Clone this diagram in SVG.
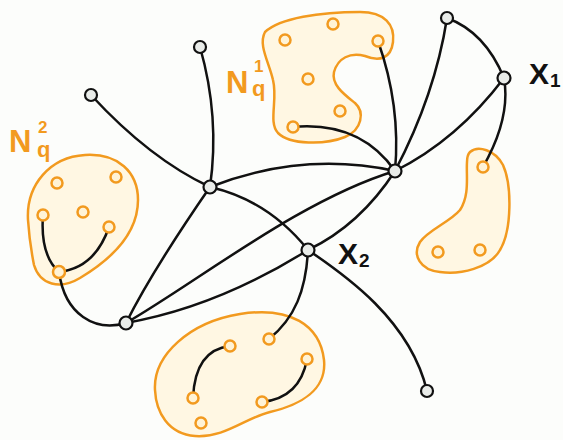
<svg xmlns="http://www.w3.org/2000/svg" width="563" height="440" viewBox="0 0 563 440">
<style>
.blob{fill:#fff7e3;stroke:#f29a1f;stroke-width:2.5}
.oc{fill:#fff3d6;stroke:#f29a1f;stroke-width:2.5}
.bn{fill:#e9ece9;stroke:#111;stroke-width:2.2}
.e{fill:none;stroke:#111;stroke-width:2.5;stroke-linecap:round}
.ol{font-family:"Liberation Sans",Arial,sans-serif;font-weight:bold;fill:#f29a1f}
.bl{font-family:"Liberation Sans",Arial,sans-serif;font-weight:bold;fill:#111}
</style>
<rect width="563" height="440" fill="#fcfdfb"/>
<g id="blob-N2"><path class="blob" d="M28,220 C26,185 50,157 85,155 C118,153 138,172 138,200 C138,235 110,260 80,278 C60,290 40,285 34,265 C31,250 29,235 28,220 Z"/></g>
<g id="blob-N1"><path class="blob" d="M265,32 C280,18 320,12 360,12 C385,12 395,25 393,42 C391,58 380,62 365,56 C350,52 338,58 334,72 C331,85 345,95 355,103 C365,112 362,130 345,137 C325,145 290,145 278,133 C268,122 278,100 273,80 C269,62 258,45 265,32 Z"/></g>
<g id="blob-3"><path class="blob" d="M470,152 C478,145 495,150 503,165 C512,185 512,230 500,250 C490,268 460,275 440,272 C420,270 412,255 420,242 C428,230 450,222 460,210 C470,195 466,175 467,162 C467,157 468,154 470,152 Z"/></g>
<g id="blob-4"><path class="blob" d="M155,390 C153,355 190,322 240,314 C290,306 320,325 324,360 C327,390 300,405 270,412 C245,418 225,438 195,436 C168,434 156,412 155,390 Z"/></g>
<g id="connectors">
<path class="e" d="M200,47 Q220,117 210,187"/>
<path class="e" d="M91,95 Q150,159 210,187"/>
<path class="e" d="M210,187 Q302,151 395,171"/>
<path class="e" d="M210,187 C245,195 280,215 308,250"/>
<path class="e" d="M308,250 C345,275 410,320 427,391"/>
<path class="e" d="M395,171 Q435,95 447,18"/>
<path class="e" d="M395,171 Q457,140 504,78"/>
<path class="e" d="M447,18 Q485,32 504,78"/>
<path class="e" d="M504,78 Q511,118 483,167"/>
<path class="e" d="M378,41 Q401,106 395,171"/>
<path class="e" d="M293,127 Q360,121 395,171"/>
<path class="e" d="M126,323 Q152,271 210,187"/>
<path class="e" d="M126,323 C200,280 300,200 395,171"/>
<path class="e" d="M126,323 Q217,307 308,250"/>
<path class="e" d="M308,250 Q360,225 395,171"/>
<path class="e" d="M308,250 C306,290 295,318 269,339"/>
<path class="e" d="M59,272 C65,315 95,332 126,323"/>
<path class="e" d="M43,215 Q40,255 59,272"/>
<path class="e" d="M59,272 Q95,268 109,227"/>
<path class="e" d="M230,346 Q195,350 193,398"/>
<path class="e" d="M262,402 Q300,398 307,359"/>
</g>
<g id="N2-nodes">
<circle class="oc" cx="57" cy="183" r="5.5"/>
<circle class="oc" cx="116" cy="177" r="5.5"/>
<circle class="oc" cx="43" cy="215" r="5.5"/>
<circle class="oc" cx="83" cy="212" r="5.5"/>
<circle class="oc" cx="109" cy="227" r="5.5"/>
<circle class="oc" cx="59" cy="272" r="6"/>
</g>
<g id="N1-nodes">
<circle class="oc" cx="285" cy="40" r="5.5"/>
<circle class="oc" cx="333" cy="24" r="5.5"/>
<circle class="oc" cx="378" cy="41" r="5.5"/>
<circle class="oc" cx="308" cy="79" r="5.5"/>
<circle class="oc" cx="340" cy="111" r="5.5"/>
<circle class="oc" cx="293" cy="127" r="5.5"/>
</g>
<g id="blob3-nodes">
<circle class="oc" cx="483" cy="167" r="5.5"/>
<circle class="oc" cx="438" cy="252" r="5.5"/>
<circle class="oc" cx="480" cy="250" r="5.5"/>
</g>
<g id="blob4-nodes">
<circle class="oc" cx="230" cy="346" r="5.5"/>
<circle class="oc" cx="269" cy="339" r="5.5"/>
<circle class="oc" cx="307" cy="359" r="5.5"/>
<circle class="oc" cx="193" cy="398" r="5.5"/>
<circle class="oc" cx="262" cy="402" r="5.5"/>
<circle class="oc" cx="201" cy="423" r="5.5"/>
</g>
<g id="node-A"><circle class="bn" cx="200" cy="47" r="6"/></g>
<g id="node-B"><circle class="bn" cx="91" cy="95" r="6"/></g>
<g id="node-C"><circle class="bn" cx="210" cy="187" r="6.5"/></g>
<g id="node-D"><circle class="bn" cx="395" cy="171" r="6.5"/></g>
<g id="node-E"><circle class="bn" cx="447" cy="18" r="6"/></g>
<g id="node-X1"><circle class="bn" cx="504" cy="78" r="6.5"/></g>
<g id="node-X2"><circle class="bn" cx="308" cy="250" r="6.5"/></g>
<g id="node-F"><circle class="bn" cx="126" cy="323" r="6.5"/></g>
<g id="node-G"><circle class="bn" cx="427" cy="391" r="6"/></g>
<g id="labels">
<text class="ol" x="226" y="93" font-size="31">N</text>
<text class="ol" x="254" y="72" font-size="17">1</text>
<text class="ol" x="252" y="96" font-size="22">q</text>
<text class="ol" x="9" y="152" font-size="31">N</text>
<text class="ol" x="38" y="133" font-size="17">2</text>
<text class="ol" x="37" y="157" font-size="22">q</text>
<text class="bl" x="529" y="84" font-size="30">X</text>
<text class="bl" x="550" y="87" font-size="19">1</text>
<text class="bl" x="338" y="264" font-size="30">X</text>
<text class="bl" x="359" y="267" font-size="19">2</text>
</g>
</svg>
